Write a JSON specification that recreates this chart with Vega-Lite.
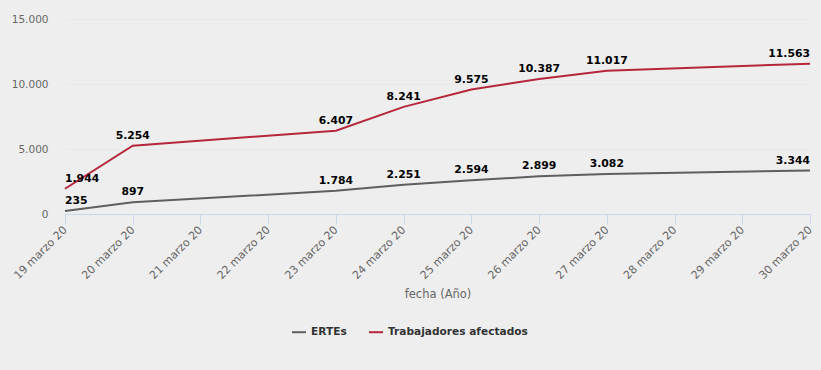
{
  "$schema": "https://vega.github.io/schema/vega-lite/v6.json",
  "width": 745,
  "height": 195,
  "autosize": "none",
  "padding": {"left": 65, "top": 19, "right": 11, "bottom": 156},
  "background": "#eeeeee",
  "config": {
    "locale": {"number": {"decimal": ",", "thousands": ".", "grouping": [3], "currency": ["", " €"]}},
    "view": {"stroke": null},
    "font": "DejaVu Sans"
  },
  "data": {
    "values": [
      {"fecha": "2020-03-19", "serie": "ERTEs", "valor": 235},
      {"fecha": "2020-03-20", "serie": "ERTEs", "valor": 897},
      {"fecha": "2020-03-23", "serie": "ERTEs", "valor": 1784},
      {"fecha": "2020-03-24", "serie": "ERTEs", "valor": 2251},
      {"fecha": "2020-03-25", "serie": "ERTEs", "valor": 2594},
      {"fecha": "2020-03-26", "serie": "ERTEs", "valor": 2899},
      {"fecha": "2020-03-27", "serie": "ERTEs", "valor": 3082},
      {"fecha": "2020-03-30", "serie": "ERTEs", "valor": 3344},
      {"fecha": "2020-03-19", "serie": "Trabajadores afectados", "valor": 1944},
      {"fecha": "2020-03-20", "serie": "Trabajadores afectados", "valor": 5254},
      {"fecha": "2020-03-23", "serie": "Trabajadores afectados", "valor": 6407},
      {"fecha": "2020-03-24", "serie": "Trabajadores afectados", "valor": 8241},
      {"fecha": "2020-03-25", "serie": "Trabajadores afectados", "valor": 9575},
      {"fecha": "2020-03-26", "serie": "Trabajadores afectados", "valor": 10387},
      {"fecha": "2020-03-27", "serie": "Trabajadores afectados", "valor": 11017},
      {"fecha": "2020-03-30", "serie": "Trabajadores afectados", "valor": 11563}
    ]
  },
  "encoding": {
    "x": {
      "field": "fecha",
      "type": "temporal",
      "scale": {"type": "utc", "nice": false},
      "axis": {
        "title": "fecha (Año)",
        "titleColor": "#666666",
        "titleFontWeight": "normal",
        "titleFontSize": 11.5,
        "titlePadding": 8,
        "tickCount": {"interval": "day", "step": 1},
        "labelExpr": "utcFormat(datum.value, '%d') + ' marzo 20'",
        "labelAngle": -45,
        "labelAlign": "right",
        "labelBaseline": "middle",
        "labelColor": "#666666",
        "labelFontSize": 11,
        "labelPadding": 4,
        "labelOverlap": false,
        "labelFlush": false,
        "domainColor": "#ccd6eb",
        "tickColor": "#ccd6eb",
        "tickSize": 10,
        "grid": false
      }
    },
    "y": {
      "field": "valor",
      "type": "quantitative",
      "scale": {"domain": [0, 15000]},
      "axis": {
        "title": null,
        "values": [0, 5000, 10000, 15000],
        "format": ",.0f",
        "labelColor": "#666666",
        "labelFontSize": 10.5,
        "labelPadding": 17,
        "domain": false,
        "ticks": false,
        "gridColor": "#e8e8e8"
      }
    },
    "color": {
      "field": "serie",
      "type": "nominal",
      "scale": {"domain": ["ERTEs", "Trabajadores afectados"], "range": ["#5f5f5f", "#b5263b"]},
      "legend": {
        "title": null,
        "orient": "none",
        "direction": "horizontal",
        "legendX": 226,
        "legendY": 305,
        "symbolType": "stroke",
        "symbolStrokeWidth": 2,
        "symbolSize": 196,
        "labelFontWeight": "bold",
        "labelFontSize": 10.6,
        "labelColor": "#333333",
        "columnPadding": 18
      }
    }
  },
  "layer": [
    {"mark": {"type": "line", "interpolate": "linear", "strokeWidth": 2}},
    {
      "mark": {
        "type": "text",
        "fontWeight": "bold",
        "fontSize": 10.8,
        "color": "#000000",
        "baseline": "bottom",
        "dy": -5,
        "align": {"expr": "utcdate(datum.fecha) == 19 ? 'left' : utcdate(datum.fecha) == 30 ? 'right' : 'center'"}
      },
      "encoding": {
        "text": {"field": "valor", "type": "quantitative", "format": ",.0f"},
        "color": {"value": "#000000"}
      }
    }
  ]
}
